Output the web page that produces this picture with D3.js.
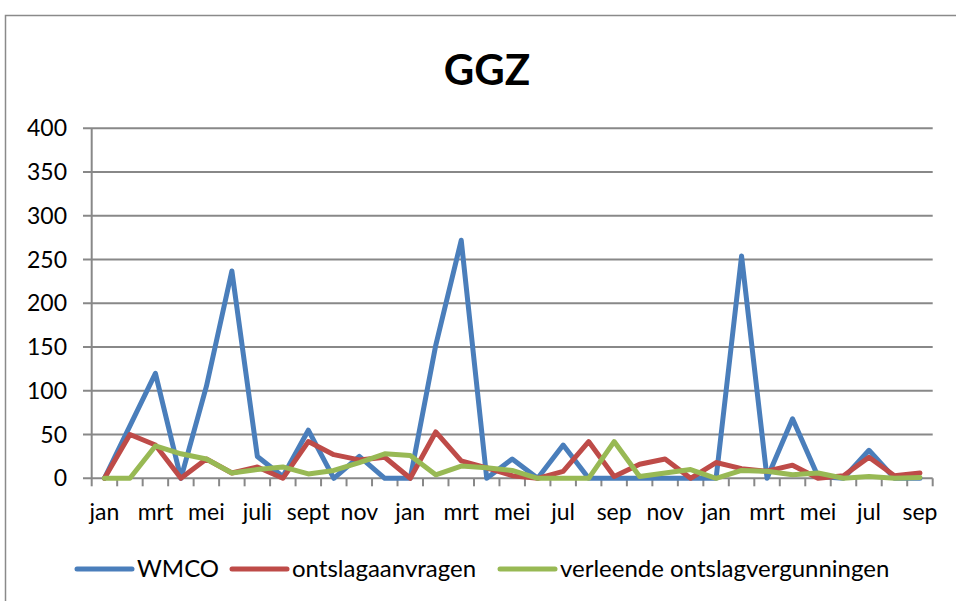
<!DOCTYPE html>
<html>
<head>
<meta charset="utf-8">
<script src="https://cdn.jsdelivr.net/npm/d3@7"></script>
<style>
  body { margin: 0; background: #fff; }
  text { font-family: Lato, "Open Sans", sans-serif; fill: #000; }
</style>
</head>
<body>
<div id="chart"></div>
<script>
// months, three years (last one stops in september)
const months = ["jan","feb","mrt","apr","mei","jun","juli","aug","sept","okt","nov","dec",
                "jan","feb","mrt","apr","mei","jun","jul","aug","sep","okt","nov","dec",
                "jan","feb","mrt","apr","mei","jun","jul","aug","sep"];
const wmco = [0,60,120,0,105,237,25,2,55,0,25,0,
              0,152,272,0,22,0,38,0,0,0,0,0,
              0,254,0,68,2,0,32,0,0];
const aanvragen = [0,50,38,0,22,6,13,0,42,27,21,24,
                   0,53,20,12,3,0,8,42,2,16,22,0,
                   18,11,8,15,0,3,24,3,6];
const vergunningen = [0,0,37,28,22,6,10,13,5,9,18,28,
                      26,4,14,12,9,0,0,0,42,2,6,10,
                      0,9,8,4,6,0,2,0,1];
const seriesNames = ["WMCO","ontslagaanvragen","verleende ontslagvergunningen"];
const colors = ["#4A7EBB","#BE4B48","#98B954"];
const yTicks = [0,50,100,150,200,250,300,350,400];

const W = 956, H = 601;
const svg = d3.select("#chart").append("svg")
    .attr("width", W).attr("height", H);

// chart frame
svg.append("rect")
    .attr("x", 5.5).attr("y", 15.5)
    .attr("width", 1000).attr("height", 1000)
    .attr("fill", "none").attr("stroke", "#8a8a8a").attr("stroke-width", 1.5);

svg.append("text")
    .attr("x", 487).attr("y", 85)
    .attr("text-anchor", "middle")
    .style("font-size", "42px").style("font-weight", "bold")
    .text("GGZ");

const idx = months.map((d, i) => i);
const x = d3.scaleBand().domain(idx).range([91.7, 932.7]).padding(0);
const y = d3.scaleLinear().domain([0, 400]).range([478.3, 128.3]);

// gridlines + y labels
svg.append("g").selectAll("line").data(yTicks).enter().append("line")
    .attr("x1", 83).attr("x2", 932.7)
    .attr("y1", d => y(d)).attr("y2", d => y(d))
    .attr("stroke", "#888").attr("stroke-width", 2);

svg.append("g").selectAll("text").data(yTicks).enter().append("text")
    .attr("x", 67).attr("y", d => y(d) + 8)
    .attr("text-anchor", "end")
    .style("font-size", "23px")
    .text(d => d);

// y axis line
svg.append("line")
    .attr("x1", 91.7).attr("x2", 91.7).attr("y1", y(400)).attr("y2", y(0))
    .attr("stroke", "#888").attr("stroke-width", 2);

// x tick marks at category boundaries
const bounds = idx.map(i => x(i)).concat([x(idx.length - 1) + x.bandwidth()]);
svg.append("g").selectAll("line").data(bounds).enter().append("line")
    .attr("x1", d => d).attr("x2", d => d)
    .attr("y1", y(0)).attr("y2", y(0) + 8)
    .attr("stroke", "#888").attr("stroke-width", 2);

svg.append("g").selectAll("text").data(idx.filter(i => i % 2 === 0)).enter().append("text")
    .attr("x", i => x(i) + x.bandwidth() / 2)
    .attr("y", 520)
    .attr("text-anchor", "middle")
    .style("font-size", "23px")
    .text(i => months[i]);

// lines
const line = d3.line()
    .x((d, i) => x(i) + x.bandwidth() / 2)
    .y(d => y(d));

[wmco, aanvragen, vergunningen].forEach((s, k) => {
  svg.append("path")
      .datum(s)
      .attr("d", line)
      .attr("fill", "none")
      .attr("stroke", colors[k])
      .attr("stroke-width", 5)
      .attr("stroke-linejoin", "round")
      .attr("stroke-linecap", "round");
});

// legend
const legendX = [77, 232, 500];
const legend = svg.append("g");
seriesNames.forEach((n, k) => {
  legend.append("line")
      .attr("x1", legendX[k]).attr("x2", legendX[k] + 55)
      .attr("y1", 569).attr("y2", 569)
      .attr("stroke", colors[k]).attr("stroke-width", 5)
      .attr("stroke-linecap", "round");
  legend.append("text")
      .attr("x", legendX[k] + 60).attr("y", 577)
      .style("font-size", "24px")
      .text(n);
});
</script>
</body>
</html>
